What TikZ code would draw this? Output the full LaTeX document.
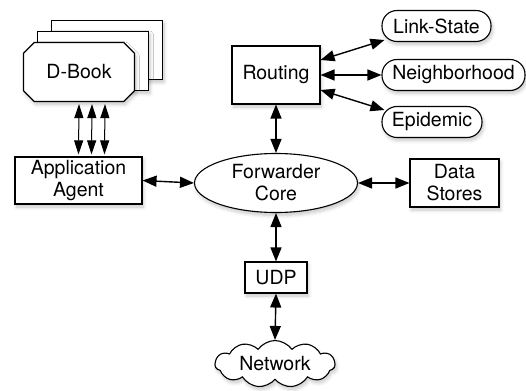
\documentclass[tikz,border=0pt]{standalone}
\usepackage{fontspec}
\setmainfont{TeX Gyre Heros}
\usetikzlibrary{arrows.meta,shapes.geometric,shapes.misc,shapes.symbols,shadows.blur}

\tikzset{
  shade/.style={blur shadow={shadow xshift=1.5pt,shadow yshift=-3pt,shadow opacity=22,shadow blur steps=8,shadow blur radius=3.5pt}},
  part/.style={draw, line width=1.1pt, fill=white, inner sep=0pt, align=center, shade},
  box/.style={part, rectangle},
  algo/.style={part, rectangle, rounded corners=15pt, minimum height=31pt},
  book/.style={part, chamfered rectangle, chamfered rectangle xsep=8pt,
    minimum width=111pt, minimum height=59pt},
  link/.style={line width=1.4pt, {Triangle[length=14pt,width=11pt]}-{Triangle[length=14pt,width=11pt]}},
  thinlink/.style={line width=1pt, {Triangle[length=14pt,width=9pt]}-{Triangle[length=14pt,width=9pt]}},
}

\begin{document}
\begin{tikzpicture}[x=1pt, y=-1pt, font=\fontsize{19.5}{22}\selectfont]
  \useasboundingbox (0,0) rectangle (526,390);

  % stacked application books
  \node[book] (book3) at (107,50) {};
  \node[book] (book2) at (93,61) {};
  \node[book] (book1) at (79,72) {D-Book};

  \node[box, minimum width=127pt, minimum height=47pt] (agent) at (78.5,180.5) {Application\\Agent};
  \node[box, minimum width=88pt, minimum height=58pt] (routing) at (276,75) {Routing};
  \node[part, ellipse, minimum width=163pt, minimum height=59pt] (core) at (276,183) {Forwarder\\Core};
  \node[box, minimum width=89pt, minimum height=48pt] (stores) at (454.5,183) {Data\\Stores};
  \node[box, minimum width=62pt, minimum height=31pt] (udp) at (276,277.5) {UDP};
  \node[part, cloud, cloud puffs=11, cloud puff arc=110, aspect=3,
    minimum width=120pt, minimum height=42pt] (net) at (275,364) {Network};

  % routing algorithms
  \node[algo, minimum width=109pt] (linkstate) at (436.5,26) {Link-State};
  \node[algo, minimum width=143pt] (neighbor) at (453.5,75) {Neighborhood};
  \node[algo, minimum width=100pt] (epidemic) at (432,122) {Epidemic};

  \draw[thinlink] ([yshift=-2pt]book1.south) -- ([yshift=2pt]agent.north);
  \draw[thinlink] ([xshift=13pt,yshift=-2pt]book1.south) -- ([xshift=13pt,yshift=2pt]agent.north);
  \draw[thinlink] ([xshift=26pt,yshift=-2pt]book1.south) -- ([xshift=26pt,yshift=2pt]agent.north);

  \draw[link] (agent.east) -- (core.west);
  \draw[link] (core.east) -- (stores.west);
  \draw[link] (routing.south) -- (core.north);
  \draw[link] (core.south) -- (udp.north);
  \draw[link] (udp.south) -- (net.north);

  \draw[link] ([yshift=15pt]routing.east) -- ([xshift=3pt,yshift=-14pt]linkstate.west);
  \draw[link] (routing.east) -- (neighbor.west);
  \draw[link] ([yshift=-15pt]routing.east) -- ([xshift=3pt,yshift=12pt]epidemic.west);
\end{tikzpicture}
\end{document}
